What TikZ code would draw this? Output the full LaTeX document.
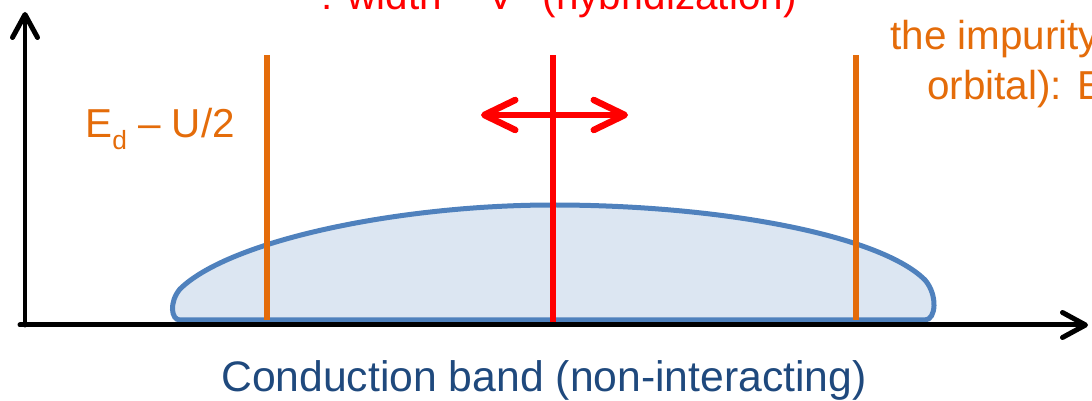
\documentclass[tikz,border=0pt]{standalone}
\usepackage{fontspec}
\setmainfont{Liberation Sans}
\usetikzlibrary{arrows.meta}
\definecolor{bandfill}{HTML}{DCE6F2}
\definecolor{bandline}{HTML}{4F81BD}
\definecolor{levelorange}{HTML}{E46C0A}
\definecolor{textblue}{HTML}{1F497D}
\tikzset{
  axis/.style={line width=0.1cm, line cap=round,
    -{Straight Barb[length=0.46cm,width=0.5cm,round]}},
  band/.style={line width=0.1cm, draw=bandline, fill=bandfill},
  level/.style={line width=0.11cm, levelorange},
  hybarrow/.style={line width=0.13cm, red, line cap=round,
    {Straight Barb[length=0.62cm,width=0.6cm,round]}-{Straight Barb[length=0.62cm,width=0.6cm,round]}},
  txt/.style={font=\fontsize{23}{27}\selectfont, inner sep=0pt}
}
\begin{document}
\begin{tikzpicture}[x=0.02cm,y=-0.02cm]
    \useasboundingbox (0,0) rectangle (1092,401);
    \clip (0,0) rectangle (1092,401);

    % Ejes
    \coordinate (O) at (25,325);
    \coordinate (Ytop) at (25,12);
    \coordinate (Xstart) at (20,325);
    \coordinate (Xend) at (1088,325);

    % Niveles
    \coordinate (EdLowTop) at (267,55);
    \coordinate (EdLowBot) at (267,320);
    \coordinate (EdHighTop) at (856,55);
    \coordinate (EdHighBot) at (856,320);
    \coordinate (EdTop) at (553,55);
    \coordinate (EdBot) at (553,322);
    \coordinate (ArrLeft) at (481,115);
    \coordinate (ArrRight) at (628,115);

    % Banda de conduccion
    \filldraw[band] (180,320) .. controls (171,320) and (169,302) .. (180,289)
        .. controls (230,240) and (400,205) .. (553,205)
        .. controls (720,205) and (880,235) .. (925,280)
        .. controls (938,295) and (936,320) .. (925,320) -- cycle;

    % Lineas de los niveles
    \draw[level] (EdLowBot) -- (EdLowTop);
    \draw[level] (EdHighBot) -- (EdHighTop);
    \draw[level, red] (EdBot) -- (EdTop);
    \draw[hybarrow] (ArrLeft) -- (ArrRight);

    % Ejes
    \draw[axis] (O) -- (Ytop);
    \draw[axis] (Xstart) -- (Xend);

    % Textos
    \node[txt, anchor=base, red] (width) at (559,10)
        {: width \textasciitilde{} V\textsuperscript{2} (hybridization)};
    \node[txt, anchor=base west, levelorange] (edlow) at (85,138)
        {E\raisebox{-0.28em}{\fontsize{15}{15}\selectfont d} – U/2};
    \node[txt, anchor=base west, levelorange] (imp1) at (890,50) {the impurity};
    \node[txt, anchor=base west, levelorange] (imp2) at (927,100) {orbital): E};
    \node[txt, anchor=base, textblue, font=\fontsize{24.3}{28}\selectfont]
        (cband) at (544,392) {Conduction band (non-interacting)};
\end{tikzpicture}
\end{document}
